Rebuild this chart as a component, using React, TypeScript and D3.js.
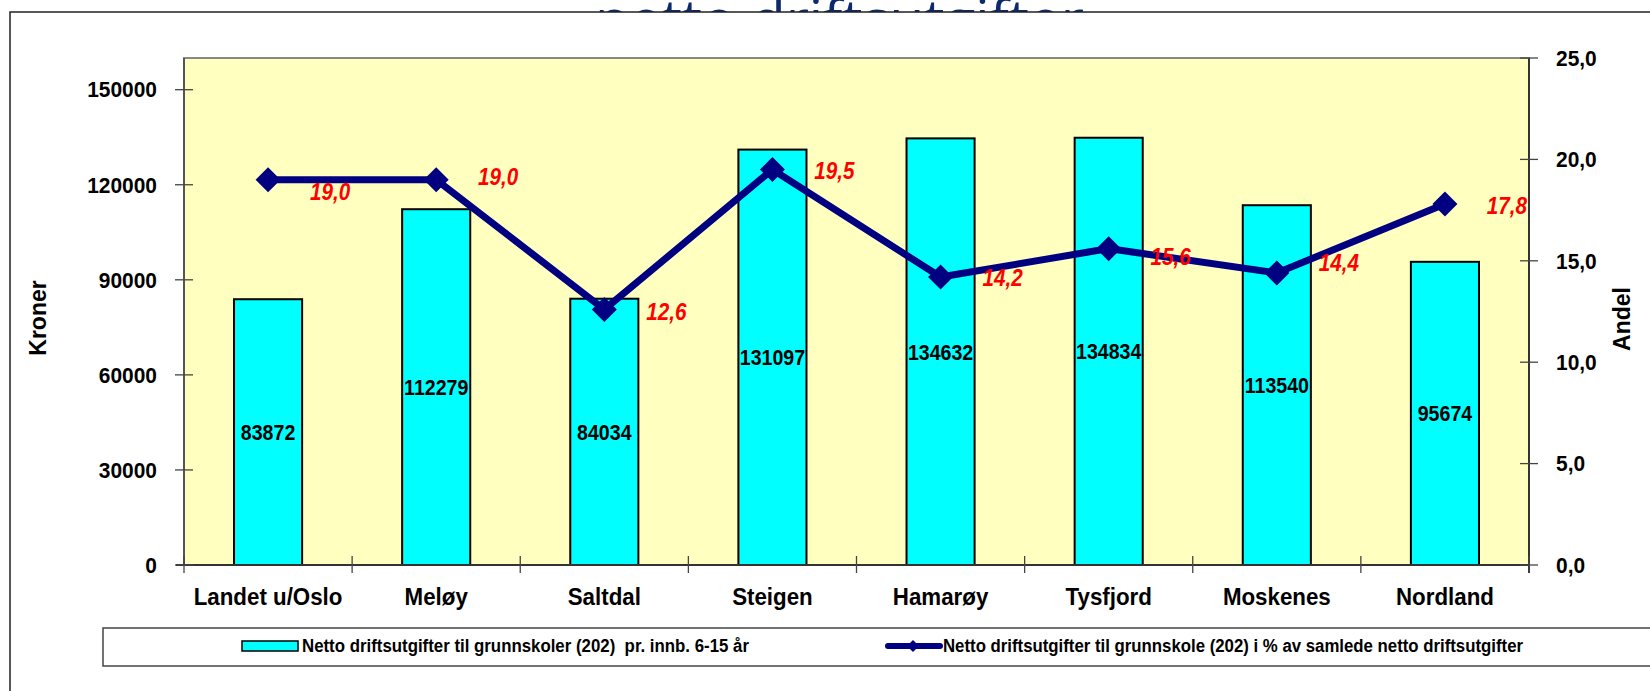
import React from "react";
import * as d3 from "d3";

const categories = ["Landet u/Oslo", "Meløy", "Saltdal", "Steigen", "Hamarøy", "Tysfjord", "Moskenes", "Nordland"];
const kroner = [83872, 112279, 84034, 131097, 134632, 134834, 113540, 95674];
const andel = [19.0, 19.0, 12.6, 19.5, 14.2, 15.6, 14.4, 17.8];
const leftTicks = [0, 30000, 60000, 90000, 120000, 150000];
const rightTicks = [0, 5, 10, 15, 20, 25];
const barSeriesName = "Netto driftsutgifter til grunnskoler (202)  pr. innb. 6-15 år";
const lineSeriesName = "Netto driftsutgifter til grunnskole (202) i % av samlede netto driftsutgifter";
const titleText = "netto driftsutgifter";

// layout: manual vertical nudges of the line's data labels (as placed in the original)
const labelDy = [12, -3, 2, 1, 1, 8, -10, 2];

const W = 1650, H = 691;
const plot = { left: 184, right: 1529, top: 58, bottom: 565 };
const FONT = "'Liberation Sans', Arial, sans-serif";

const fmtComma = (v: number) => v.toFixed(1).replace(".", ",");

function CText({ x, y, sx = 1, anchor = "middle", children, ...rest }: any) {
  return (
    <text
      transform={`translate(${x},${y}) scale(${sx},1)`}
      textAnchor={anchor}
      dominantBaseline="central"
      {...rest}
    >
      {children}
    </text>
  );
}

export default function App() {
  const x = d3.scaleBand<string>().domain(categories).range([plot.left, plot.right]).padding(0);
  const yL = d3.scaleLinear().domain([0, 160000]).range([plot.bottom, plot.top]);
  const yR = d3.scaleLinear().domain([0, 25]).range([plot.bottom, plot.top]);
  const bw = x.bandwidth();
  const barW = bw * 0.405;
  const cx = (c: string) => (x(c) as number) + bw / 2;

  const line = d3
    .line<number>()
    .x((_, i) => cx(categories[i]))
    .y((d) => yR(d));

  const diamond = (px: number, py: number, r: number) =>
    `M${px},${py - r}L${px + r},${py}L${px},${py + r}L${px - r},${py}Z`;

  const boundaries = d3.range(categories.length + 1).map((i) => plot.left + i * bw);

  return (
    <svg width={W} height={H} style={{ position: "absolute", left: 0, top: 0, background: "#fff" }}>
      {/* clipped title */}
      <text
        x={595}
        y={39}
        fontFamily="'Open Sans', sans-serif"
        fontSize={54}
        fill="#0C2A6B"
        textLength={489}
        lengthAdjust="spacingAndGlyphs"
      >
        {titleText}
      </text>
      {/* chart area */}
      <rect x={10} y={12} width={W} height={H} fill="#fff" stroke="#222" strokeWidth={1.5} />

      {/* plot area */}
      <rect
        x={plot.left}
        y={plot.top}
        width={plot.right - plot.left}
        height={plot.bottom - plot.top}
        fill="#FFFFC0"
        stroke="#888"
        strokeWidth={2}
      />

      {/* bars */}
      {categories.map((c, i) => (
        <rect
          key={c}
          x={cx(c) - barW / 2}
          y={yL(kroner[i])}
          width={barW}
          height={yL(0) - yL(kroner[i])}
          fill="#00FFFF"
          stroke="#000"
          strokeWidth={2}
        />
      ))}
      {categories.map((c, i) => (
        <CText
          key={c}
          x={cx(c)}
          y={(yL(kroner[i]) + yL(0)) / 2}
          sx={0.89}
          fontFamily={FONT}
          fontWeight="bold"
          fontSize={22}
          fill="#000"
        >
          {kroner[i]}
        </CText>
      ))}

      {/* axes */}
      <line x1={plot.left} x2={plot.left} y1={plot.top} y2={plot.bottom} stroke="#444" strokeWidth={1.5} />
      <line x1={plot.right} x2={plot.right} y1={plot.top} y2={plot.bottom + 8} stroke="#333" strokeWidth={2} />
      <line x1={plot.left - 8} x2={plot.right} y1={plot.bottom} y2={plot.bottom} stroke="#333" strokeWidth={2} />
      {boundaries.map((bx, i) => (
        <line key={i} x1={bx} x2={bx} y1={plot.bottom - 9} y2={plot.bottom + 8} stroke="#444" strokeWidth={1.3} />
      ))}
      {leftTicks.map((t) => (
        <g key={t}>
          <line x1={plot.left - 9} x2={plot.left + 9} y1={yL(t)} y2={yL(t)} stroke="#444" strokeWidth={1.3} />
          <CText x={157} y={yL(t)} anchor="end" sx={0.93} fontFamily={FONT} fontWeight="bold" fontSize={22.5} fill="#000">
            {t}
          </CText>
        </g>
      ))}
      {rightTicks.map((t) => (
        <g key={t}>
          <line x1={plot.right - 9} x2={plot.right + 9} y1={yR(t)} y2={yR(t)} stroke="#444" strokeWidth={1.3} />
          <CText x={1556} y={yR(t)} anchor="start" sx={0.93} fontFamily={FONT} fontWeight="bold" fontSize={22.5} fill="#000">
            {fmtComma(t)}
          </CText>
        </g>
      ))}
      {categories.map((c) => (
        <CText key={c} x={cx(c)} y={597} sx={0.95} fontFamily={FONT} fontWeight="bold" fontSize={23.5} fill="#000">
          {c}
        </CText>
      ))}
      <text
        transform="translate(38,318) rotate(-90)"
        textAnchor="middle"
        dominantBaseline="central"
        fontFamily={FONT}
        fontWeight="bold"
        fontSize={23}
        fill="#000"
      >
        Kroner
      </text>
      <text
        transform="translate(1622,319) rotate(-90)"
        textAnchor="middle"
        dominantBaseline="central"
        fontFamily={FONT}
        fontWeight="bold"
        fontSize={23}
        fill="#000"
      >
        Andel
      </text>

      {/* line series */}
      <path d={line(andel) as string} fill="none" stroke="#000080" strokeWidth={7} strokeLinejoin="miter" />
      {andel.map((v, i) => (
        <path key={i} d={diamond(cx(categories[i]), yR(v), 12.5)} fill="#000080" />
      ))}
      {andel.map((v, i) => (
        <CText
          key={i}
          x={cx(categories[i]) + 62}
          y={yR(v) + labelDy[i]}
          sx={0.86}
          fontFamily={FONT}
          fontWeight="bold"
          fontStyle="italic"
          fontSize={24}
          fill="#FF0000"
        >
          {fmtComma(v)}
        </CText>
      ))}

      {/* legend */}
      <rect x={103} y={628} width={1600} height={38} fill="#fff" stroke="#444" strokeWidth={1.5} />
      <rect x={242} y={641} width={56} height={10} fill="#00FFFF" stroke="#000" strokeWidth={1.5} />
      <text
        x={302}
        y={646}
        dominantBaseline="central"
        fontFamily={FONT}
        fontWeight="bold"
        fontSize={18}
        textLength={447}
        lengthAdjust="spacingAndGlyphs"
        style={{ whiteSpace: "pre" }}
      >
        {barSeriesName}
      </text>
      <line x1={888} x2={940} y1={646} y2={646} stroke="#000080" strokeWidth={6} strokeLinecap="round" />
      <path d={diamond(913, 646, 6)} fill="#000080" />
      <text
        x={943}
        y={646}
        dominantBaseline="central"
        fontFamily={FONT}
        fontWeight="bold"
        fontSize={18}
        textLength={580}
        lengthAdjust="spacingAndGlyphs"
      >
        {lineSeriesName}
      </text>
    </svg>
  );
}
